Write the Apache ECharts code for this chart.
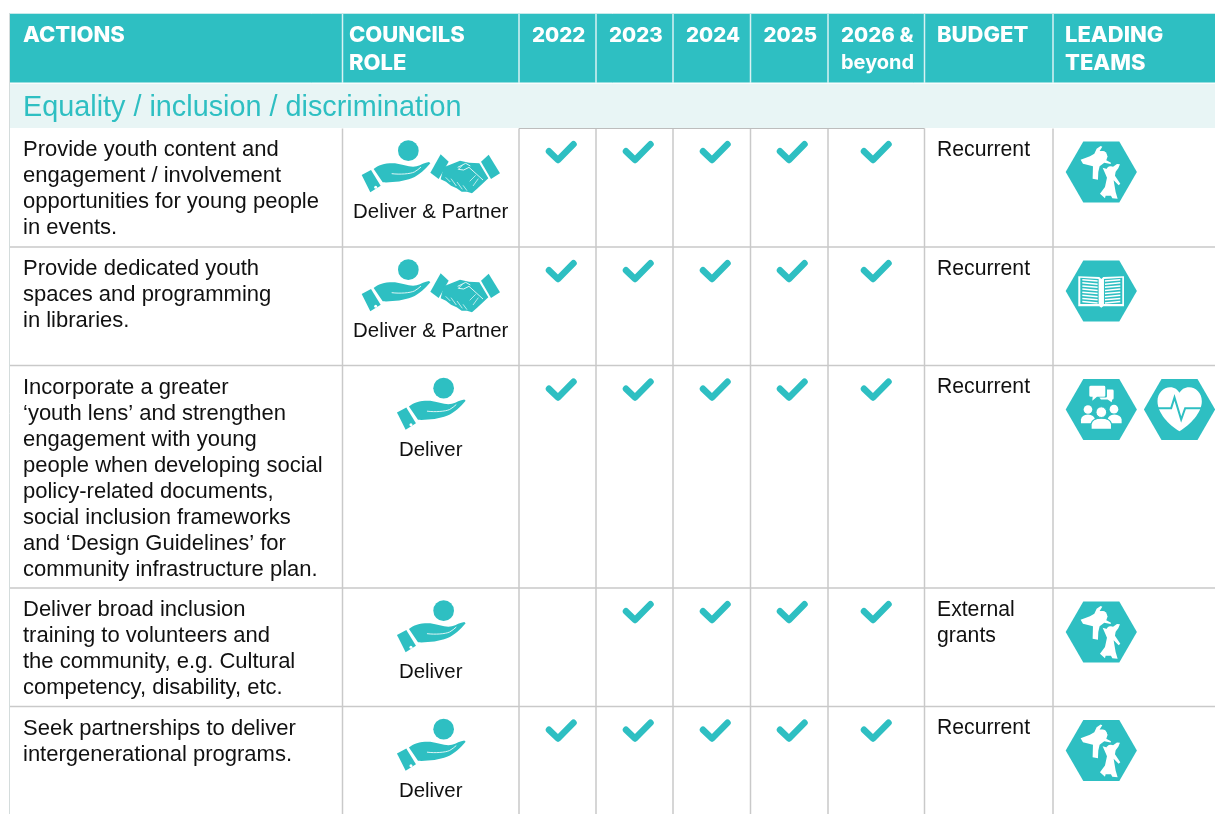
<!DOCTYPE html>
<html>
<head>
<meta charset="utf-8">
<style>
html, body { margin: 0; padding: 0; background: #fff; }
#main { width: 1215px; height: 814px; }
</style>
<script src="https://cdn.jsdelivr.net/npm/echarts@6/dist/echarts.min.js"></script>
</head>
<body>
<div id="main"></div>
<script>
// table content
var headers = ['ACTIONS', 'COUNCILS\nROLE', '2022', '2023', '2024', '2025', '2026 &', 'BUDGET', 'LEADING\nTEAMS'];
var headerBeyond = 'beyond';
var sectionTitle = 'Equality / inclusion / discrimination';
var actions = [
    'Provide youth content and\nengagement / involvement\nopportunities for young people\nin events.',
    'Provide dedicated youth\nspaces and programming\nin libraries.',
    'Incorporate a greater\n‘youth lens’ and strengthen\nengagement with young\npeople when developing social\npolicy-related documents,\nsocial inclusion frameworks\nand ‘Design Guidelines’ for\ncommunity infrastructure plan.',
    'Deliver broad inclusion\ntraining to volunteers and\nthe community, e.g. Cultural\ncompetency, disability, etc.',
    'Seek partnerships to deliver\nintergenerational programs.'
];
var roles = ['Deliver & Partner', 'Deliver & Partner', 'Deliver', 'Deliver', 'Deliver'];
// one row per action, one column per year (2022 .. 2026 & beyond)
var yearChecks = [
    [1, 1, 1, 1, 1],
    [1, 1, 1, 1, 1],
    [1, 1, 1, 1, 1],
    [0, 1, 1, 1, 1],
    [1, 1, 1, 1, 1]
];
var budgets = ['Recurrent', 'Recurrent', 'Recurrent', 'External\ngrants', 'Recurrent'];
var teams = [['kids'], ['book'], ['people', 'heart'], ['kids'], ['kids']];

// layout
var colLines = [342.5, 519, 596, 673, 750.5, 828, 924.5, 1053];
var headerTextX = [23, 349, 532, 609, 686, 763.5, 841, 937, 1065];
var checkX = [558, 635, 712, 789, 873];
var rowTops = [128, 247, 365.5, 588, 706.5, 814];
var TEAL = '#2ebfc2';
var BAND = '#e8f5f5';
var LINE = '#c9c9c9';
var INK = '#111';
var BODY_FONT = '"Liberation Sans", Arial, sans-serif';
var HEAD_FONT = 'Inter, "Liberation Sans", sans-serif';

var checkRows = [];
for (var i = 0; i < yearChecks.length; i++) {
    for (var j = 0; j < yearChecks[i].length; j++) {
        if (yearChecks[i][j]) {
            checkRows.push([j, i]);
        }
    }
}

// icons are drawn in a 3x space, then scaled down
var HAND = 'M86 117 C100 105 120 99 150 100 C175 103 195 114 215 109 C228 105 240 97 252 96 L256 100 C240 118 225 135 200 145 C175 155 140 158 113 157 Z';
var CUFF = 'M50 135 L78 120 L107 167 L76 187 Z';
var HANDSHAKE = 'M296 112 L345 92 L372 98 L403 100 L430 145 L398 175 L381 190 L366 185 L350 185 L335 175 L318 167 L303 155 L287 148 Z';

var KID_A = 'M77 88 L105 78 L118 70 L125 55 L137 47 L142 49 L134 62 L150 64 L158 78 L154 90 L168 97 L167 101 L148 97 L134 108 L130 125 L129 148 L113 145 L114 108 L84 100 Z';
var KID_B = 'M143 112 L156 116 L170 112 L186 101 L195 102 L190 114 L182 124 L180 136 L196 160 L191 165 L176 150 L182 185 L188 205 L172 204 L168 196 L152 196 L150 204 L135 190 L150 170 L156 142 L150 128 Z';
var HEART = 'M373 185 C340 165 307 130 307 95 C307 70 325 53 345 53 C358 53 368 60 373 70 C378 60 388 53 402 53 C422 53 440 70 440 95 C440 130 405 165 373 185 Z';

function line(p1, p2, color, width) {
    return {
        type: 'line',
        shape: { x1: p1[0], y1: p1[1], x2: p2[0], y2: p2[1] },
        style: { stroke: color, lineWidth: width }
    };
}

function label(text, p, font, color, lineHeight) {
    return {
        type: 'text',
        style: {
            text: text, x: p[0], y: p[1], font: font, fill: color,
            lineHeight: lineHeight, verticalAlign: 'middle', align: 'left'
        }
    };
}

function hexagon(cx, cy) {
    return {
        type: 'polygon',
        shape: { points: [[cx - 35.6, cy], [cx - 18, cy - 30.5], [cx + 18, cy - 30.5], [cx + 35.6, cy], [cx + 18, cy + 30.5], [cx - 18, cy + 30.5]] },
        style: { fill: TEAL }
    };
}

function pathEl(d, style) {
    return { type: 'path', shape: { pathData: d }, style: style };
}

function handIcon(p) {
    return {
        type: 'group', x: p[0], y: p[1], scaleX: 1 / 3, scaleY: 1 / 3,
        children: [
            { type: 'circle', shape: { cx: 190, cy: 62, r: 31 }, style: { fill: TEAL } },
            pathEl(HAND, { fill: TEAL }),
            pathEl('M140 131 C165 134 195 132 208 126 C216 122 222 116 228 111', { fill: 'none', stroke: '#fff', lineWidth: 2.5 }),
            pathEl(CUFF, { fill: TEAL }),
            { type: 'circle', shape: { cx: 92, cy: 172, r: 4.5 }, style: { fill: '#fff' } }
        ]
    };
}

function shakeIcon(p) {
    return {
        type: 'group', x: p[0], y: p[1], scaleX: 1 / 3, scaleY: 1 / 3,
        children: [
            pathEl('M256 128 L287 73 L311 95 L281 147 Z', { fill: TEAL }),
            pathEl('M408 95 L431 74 L465 130 L438 147 Z', { fill: TEAL }),
            pathEl(HANDSHAKE, { fill: TEAL }),
            pathEl('M338 112 L362 100 L376 108 M352 106 L340 118 L356 120 L372 112 L414 150', { fill: 'none', stroke: '#fff', lineWidth: 2.5 }),
            pathEl('M392 136 L374 154 M400 146 L384 168', { fill: 'none', stroke: '#fff', lineWidth: 2 }),
            pathEl('M302 142 L316 156 M318 146 L334 168 M336 156 L352 178 M354 166 L366 182', { fill: 'none', stroke: '#fff', lineWidth: 2 })
        ]
    };
}

function teamIcon(kind, cx, cy) {
    var kids = [];
    var ox = 139;
    var oy = 120;
    if (kind === 'kids') {
        oy = 125;
        kids = [
            pathEl(KID_A, { fill: '#fff' }),
            pathEl(KID_B, { fill: '#fff' }),
            { type: 'circle', shape: { cx: 142, cy: 76, r: 14 }, style: { fill: '#fff' } },
            { type: 'circle', shape: { cx: 167, cy: 122, r: 14 }, style: { fill: '#fff' } }
        ];
    } else if (kind === 'book') {
        kids = [
            pathEl('M70 76 L133 78 L139 84 L145 78 L207 76 L207 166 L145 166 L139 170 L133 166 L70 166 Z', { fill: '#fff' }),
            pathEl('M76 80 L131 84 L131 159 L76 159 Z', { fill: TEAL }),
            pathEl('M147 84 L202 80 L202 159 L147 159 Z', { fill: TEAL })
        ];
        for (var k = 0; k < 8; k++) {
            var y0 = 86 + k * 9.4;
            kids.push(line([82, y0], [128, y0 + 4], '#fff', 4.5));
            kids.push(line([150, y0 + 4], [196, y0], '#fff', 4.5));
        }
    } else if (kind === 'people') {
        kids = [
            pathEl('M108 49 L147 49 Q151 49 151 53 L151 78 Q151 82 147 82 L126 82 L112 94 L113 82 L108 82 Q103 82 103 78 L103 53 Q103 49 108 49 Z', { fill: '#fff' }),
            pathEl('M156 60 L172 60 Q176 60 176 64 L176 86 Q176 90 172 90 L170 98 L158 90 L138 90 L133 84 L152 84 Q156 84 156 80 Z', { fill: '#fff' }),
            { type: 'circle', shape: { cx: 99, cy: 120, r: 13 }, style: { fill: '#fff' } },
            { type: 'circle', shape: { cx: 177, cy: 119, r: 13 }, style: { fill: '#fff' } },
            pathEl('M78 161 L78 150 Q80 136 99 135 Q118 136 120 150 L120 161 Z', { fill: '#fff' }),
            pathEl('M158 161 L158 150 Q160 136 178 135 Q198 136 200 150 L200 161 Z', { fill: '#fff' }),
            pathEl('M108 180 L108 164 Q112 146 139 146 Q166 146 170 164 L170 180 Z', { fill: '#fff', stroke: TEAL, lineWidth: 4 }),
            { type: 'circle', shape: { cx: 139, cy: 128, r: 16 }, style: { fill: '#fff', stroke: TEAL, lineWidth: 3 } }
        ];
    } else {
        ox = 373;
        kids = [
            pathEl(HEART, { fill: '#fff' }),
            pathEl('M305 116 L348 116 L358 84 L378 150 L390 116 L442 116', { fill: 'none', stroke: TEAL, lineWidth: 6 })
        ];
    }
    return {
        type: 'group', x: cx - ox / 3, y: cy - oy / 3, scaleX: 1 / 3, scaleY: 1 / 3,
        children: kids
    };
}

// background, header band and grid lines
function renderFrame(params, api) {
    var children = [];
    var tl = api.coord([10, 14]);
    var br = api.coord([1215, 83]);
    children.push({ type: 'rect', shape: { x: tl[0], y: tl[1], width: br[0] - tl[0], height: br[1] - tl[1] }, style: { fill: TEAL } });
    children.push(line(api.coord([10, 13.5]), api.coord([1215, 13.5]), '#c5e9ea', 1));
    tl = api.coord([10, 83.5]);
    br = api.coord([1215, 128]);
    children.push({ type: 'rect', shape: { x: tl[0], y: tl[1], width: br[0] - tl[0], height: br[1] - tl[1] }, style: { fill: BAND } });
    children.push(line(api.coord([10, 83]), api.coord([1215, 83]), '#fff', 1));
    children.push(line(api.coord([9.5, 13]), api.coord([9.5, 814]), '#d4dcdc', 1));
    colLines.forEach(function (x) {
        children.push(line(api.coord([x, 14]), api.coord([x, 83]), '#d9f2f3', 1.5));
        children.push(line(api.coord([x, 128.5]), api.coord([x, 814]), LINE, 1.5));
    });
    children.push(line(api.coord([519, 128.5]), api.coord([924.5, 128.5]), '#bdbdbd', 1));
    rowTops.slice(1, 5).forEach(function (y) {
        children.push(line(api.coord([10, y]), api.coord([1215, y]), LINE, 1.5));
    });
    return { type: 'group', children: children };
}

function renderHeader(params, api) {
    var i = api.value(0);
    var isYear = i >= 2 && i <= 5;
    var size = isYear ? 20.5 : 22;
    var el = label(headers[i], api.coord([headerTextX[i], 35]), '800 ' + size + 'px ' + HEAD_FONT, '#fff', 28);
    el.style.verticalAlign = 'top';
    el.style.y = api.coord([0, 21.5])[1];
    if (i === 6) {
        el.style.font = '800 20.5px ' + HEAD_FONT;
        return {
            type: 'group',
            children: [el, label(headerBeyond, api.coord([headerTextX[i], 62.5]), '700 20px ' + HEAD_FONT, '#fff', 28)]
        };
    }
    return el;
}

function renderRow(params, api) {
    var r = api.value(0);
    var top = rowTops[r];
    var children = [];

    var a = label(actions[r], api.coord([23, top + 9]), '22px ' + BODY_FONT, INK, 26);
    a.style.verticalAlign = 'top';
    children.push(a);

    var b = label(budgets[r], api.coord([937, top + 9]), '21.2px ' + BODY_FONT, INK, 26);
    b.style.verticalAlign = 'top';
    children.push(b);

    var role = label(roles[r], api.coord([430.7, top + 84.5]), '20.4px ' + BODY_FONT, INK, 26);
    role.style.align = 'center';
    children.push(role);

    if (roles[r].indexOf('Partner') > -1) {
        children.push(handIcon(api.coord([345, top + 2])));
        children.push(shakeIcon(api.coord([345, top + 2])));
    } else {
        children.push(handIcon(api.coord([380.3, top + 2])));
    }

    teams[r].forEach(function (kind, n) {
        var c = api.coord([n === 0 ? 1101.3 : 1179.5, top + 44]);
        children.push(hexagon(c[0], c[1]));
        children.push(teamIcon(kind, c[0], c[1]));
    });
    return { type: 'group', children: children };
}

function renderCheck(params, api) {
    var x = checkX[api.value(0)];
    var top = rowTops[api.value(1)];
    return {
        type: 'polyline',
        shape: { points: [api.coord([x - 9, top + 23.3]), api.coord([x, top + 32]), api.coord([x + 15.5, top + 16.3])] },
        style: { fill: 'none', stroke: TEAL, lineWidth: 6.5, lineCap: 'round', lineJoin: 'round' }
    };
}

var myChart = echarts.init(document.getElementById('main'));

var option = {
    animation: false,
    backgroundColor: '#fff',
    grid: { left: 0, right: 0, top: 0, bottom: 0 },
    xAxis: { type: 'value', min: 0, max: 1215, show: false },
    yAxis: { type: 'value', min: 0, max: 814, inverse: true, show: false },
    series: [
        { type: 'custom', name: 'frame', silent: true, clip: true, data: [[0]], renderItem: renderFrame },
        { type: 'custom', name: 'header', silent: true, data: headers.map(function (h, i) { return [i]; }), renderItem: renderHeader },
        {
            type: 'custom', name: 'section', silent: true, data: [[0]],
            renderItem: function (params, api) {
                return label(sectionTitle, api.coord([23, 108.5]), '28.8px ' + BODY_FONT, TEAL, 30);
            }
        },
        { type: 'custom', name: 'rows', silent: true, clip: true, data: actions.map(function (a, i) { return [i]; }), renderItem: renderRow },
        { type: 'custom', name: 'checks', silent: true, data: checkRows, renderItem: renderCheck }
    ]
};
myChart.setOption(option);
</script>
</body>
</html>
